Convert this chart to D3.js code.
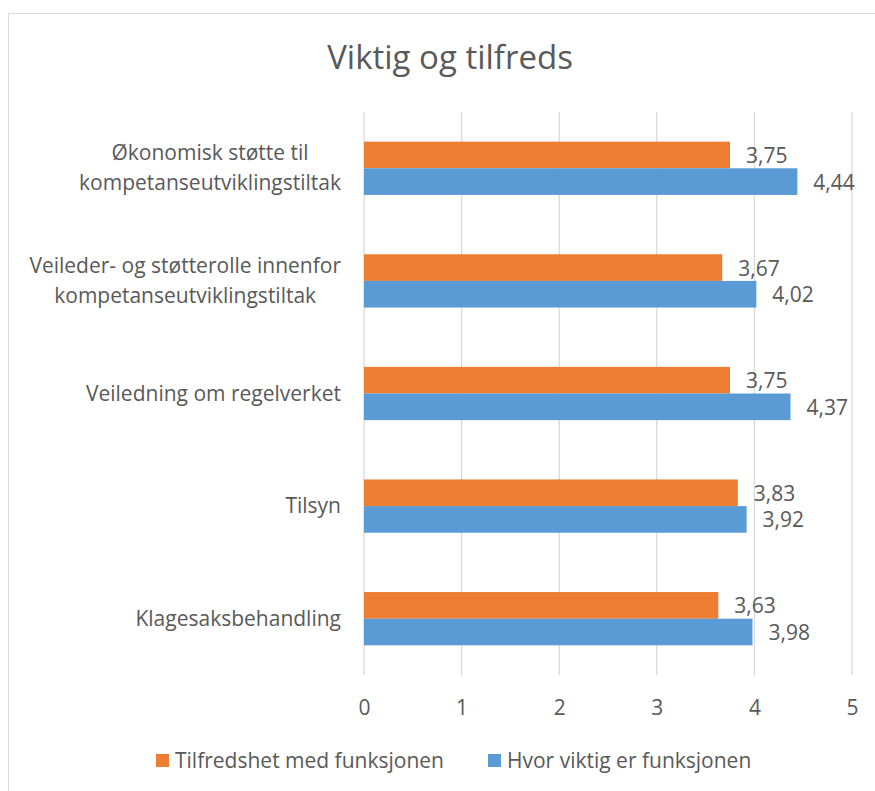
<!DOCTYPE html>
<html>
<head>
<meta charset="utf-8">
<script src="https://cdn.jsdelivr.net/npm/d3@7"></script>
<style>
  body { margin: 0; background: #fff; }
  text { font-family: "Open Sans", sans-serif; fill: #595959; }
</style>
</head>
<body>
<script>
/* ----------------------
Data for the chart
* ----------------------- */
var categories = [
  "Økonomisk støtte til kompetanseutviklingstiltak",
  "Veileder- og støtterolle innenfor kompetanseutviklingstiltak",
  "Veiledning om regelverket",
  "Tilsyn",
  "Klagesaksbehandling"
];
// label lines, as wrapped in the picture
var categoryLines = [
  ["Økonomisk støtte til", "kompetanseutviklingstiltak"],
  ["Veileder- og støtterolle innenfor", "kompetanseutviklingstiltak"],
  ["Veiledning om regelverket"],
  ["Tilsyn"],
  ["Klagesaksbehandling"]
];
var seriesNames = ["Tilfredshet med funksjonen", "Hvor viktig er funksjonen"];
var tilfredshet = [3.75, 3.67, 3.75, 3.83, 3.63];
var viktig = [4.44, 4.02, 4.37, 3.92, 3.98];
var xTicks = [0, 1, 2, 3, 4, 5];
var seriesColors = ["#ED7D31", "#5B9BD5"];

var width = 875, height = 791;
var fontSize = "21px";

var svg = d3.select("body").append("svg")
  .attr("width", width)
  .attr("height", height);

// chart border (runs off the right and bottom of the picture)
svg.append("rect")
  .attr("x", 8.5)
  .attr("y", 13.5)
  .attr("width", 900)
  .attr("height", 900)
  .attr("fill", "none")
  .attr("stroke", "#d9d9d9")
  .attr("stroke-width", 1);

svg.append("text")
  .attr("x", 450)
  .attr("y", 69)
  .attr("text-anchor", "middle")
  .style("font-size", "33px")
  .text("Viktig og tilfreds");

var x = d3.scaleLinear().domain([0, 5]).range([364, 852]);
var y = d3.scaleBand().domain(categories).range([112, 675])
  .paddingInner(0.527).paddingOuter(0.2635);
var ySub = d3.scaleBand().domain(seriesNames).range([0, y.bandwidth()]);

// gridlines
svg.append("g")
  .selectAll("line")
  .data(xTicks)
  .enter()
  .append("line")
  .attr("x1", function(d) { return x(d); })
  .attr("x2", function(d) { return x(d); })
  .attr("y1", 112)
  .attr("y2", 675)
  .attr("stroke", "#d9d9d9")
  .attr("stroke-width", 1.3);

// x axis tick labels
var xAxis = d3.axisBottom(x).tickValues(xTicks).tickSize(0).tickPadding(0)
  .tickFormat(d3.format("d"));
var gx = svg.append("g")
  .attr("transform", "translate(0,715)")
  .call(xAxis);
gx.select(".domain").remove();
gx.selectAll("text")
  .attr("dy", 0)
  .style("font-family", "'Open Sans', sans-serif")
  .style("font-size", fontSize)
  .attr("fill", "#595959");

// bars
var rows = categories.map(function(c, i) {
  return [
    {cat: c, series: seriesNames[0], value: tilfredshet[i], color: seriesColors[0]},
    {cat: c, series: seriesNames[1], value: viktig[i], color: seriesColors[1]}
  ];
});
var flat = [].concat.apply([], rows);

svg.append("g")
  .selectAll("rect")
  .data(flat)
  .enter()
  .append("rect")
  .attr("x", x(0))
  .attr("y", function(d) { return y(d.cat) + ySub(d.series); })
  .attr("width", function(d) { return x(d.value) - x(0); })
  .attr("height", ySub.bandwidth())
  .attr("fill", function(d) { return d.color; });

// data labels
svg.append("g")
  .selectAll("text")
  .data(flat)
  .enter()
  .append("text")
  .attr("x", function(d) { return x(d.value) + 16; })
  .attr("y", function(d) { return y(d.cat) + ySub(d.series) + ySub.bandwidth() / 2 + 8; })
  .style("font-size", fontSize)
  .text(function(d) { return d3.format(".2f")(d.value).replace(".", ","); });

// category labels: block right aligned, lines centred within the block
var labelRight = 341, lineH = 30;
categories.forEach(function(c, i) {
  var lines = categoryLines[i];
  var g = svg.append("g");
  var texts = g.selectAll("text")
    .data(lines)
    .enter()
    .append("text")
    .attr("text-anchor", "middle")
    .style("font-size", fontSize)
    .text(function(d) { return d; });
  var maxW = 0;
  texts.each(function() { maxW = Math.max(maxW, this.getComputedTextLength()); });
  var cy = y(c) + y.bandwidth() / 2;
  texts
    .attr("x", labelRight - maxW / 2)
    .attr("y", function(d, j) { return cy + (j - (lines.length - 1) / 2) * lineH + 7; });
});

// legend
var legendX = [156, 488];
var legend = svg.append("g")
  .selectAll("g")
  .data(seriesNames)
  .enter()
  .append("g")
  .attr("transform", function(d, i) { return "translate(" + legendX[i] + ",754)"; });
legend.append("rect")
  .attr("width", 13)
  .attr("height", 13)
  .attr("fill", function(d, i) { return seriesColors[i]; });
legend.append("text")
  .attr("x", 19)
  .attr("y", 14)
  .style("font-size", fontSize)
  .text(function(d) { return d; });
</script>
</body>
</html>
